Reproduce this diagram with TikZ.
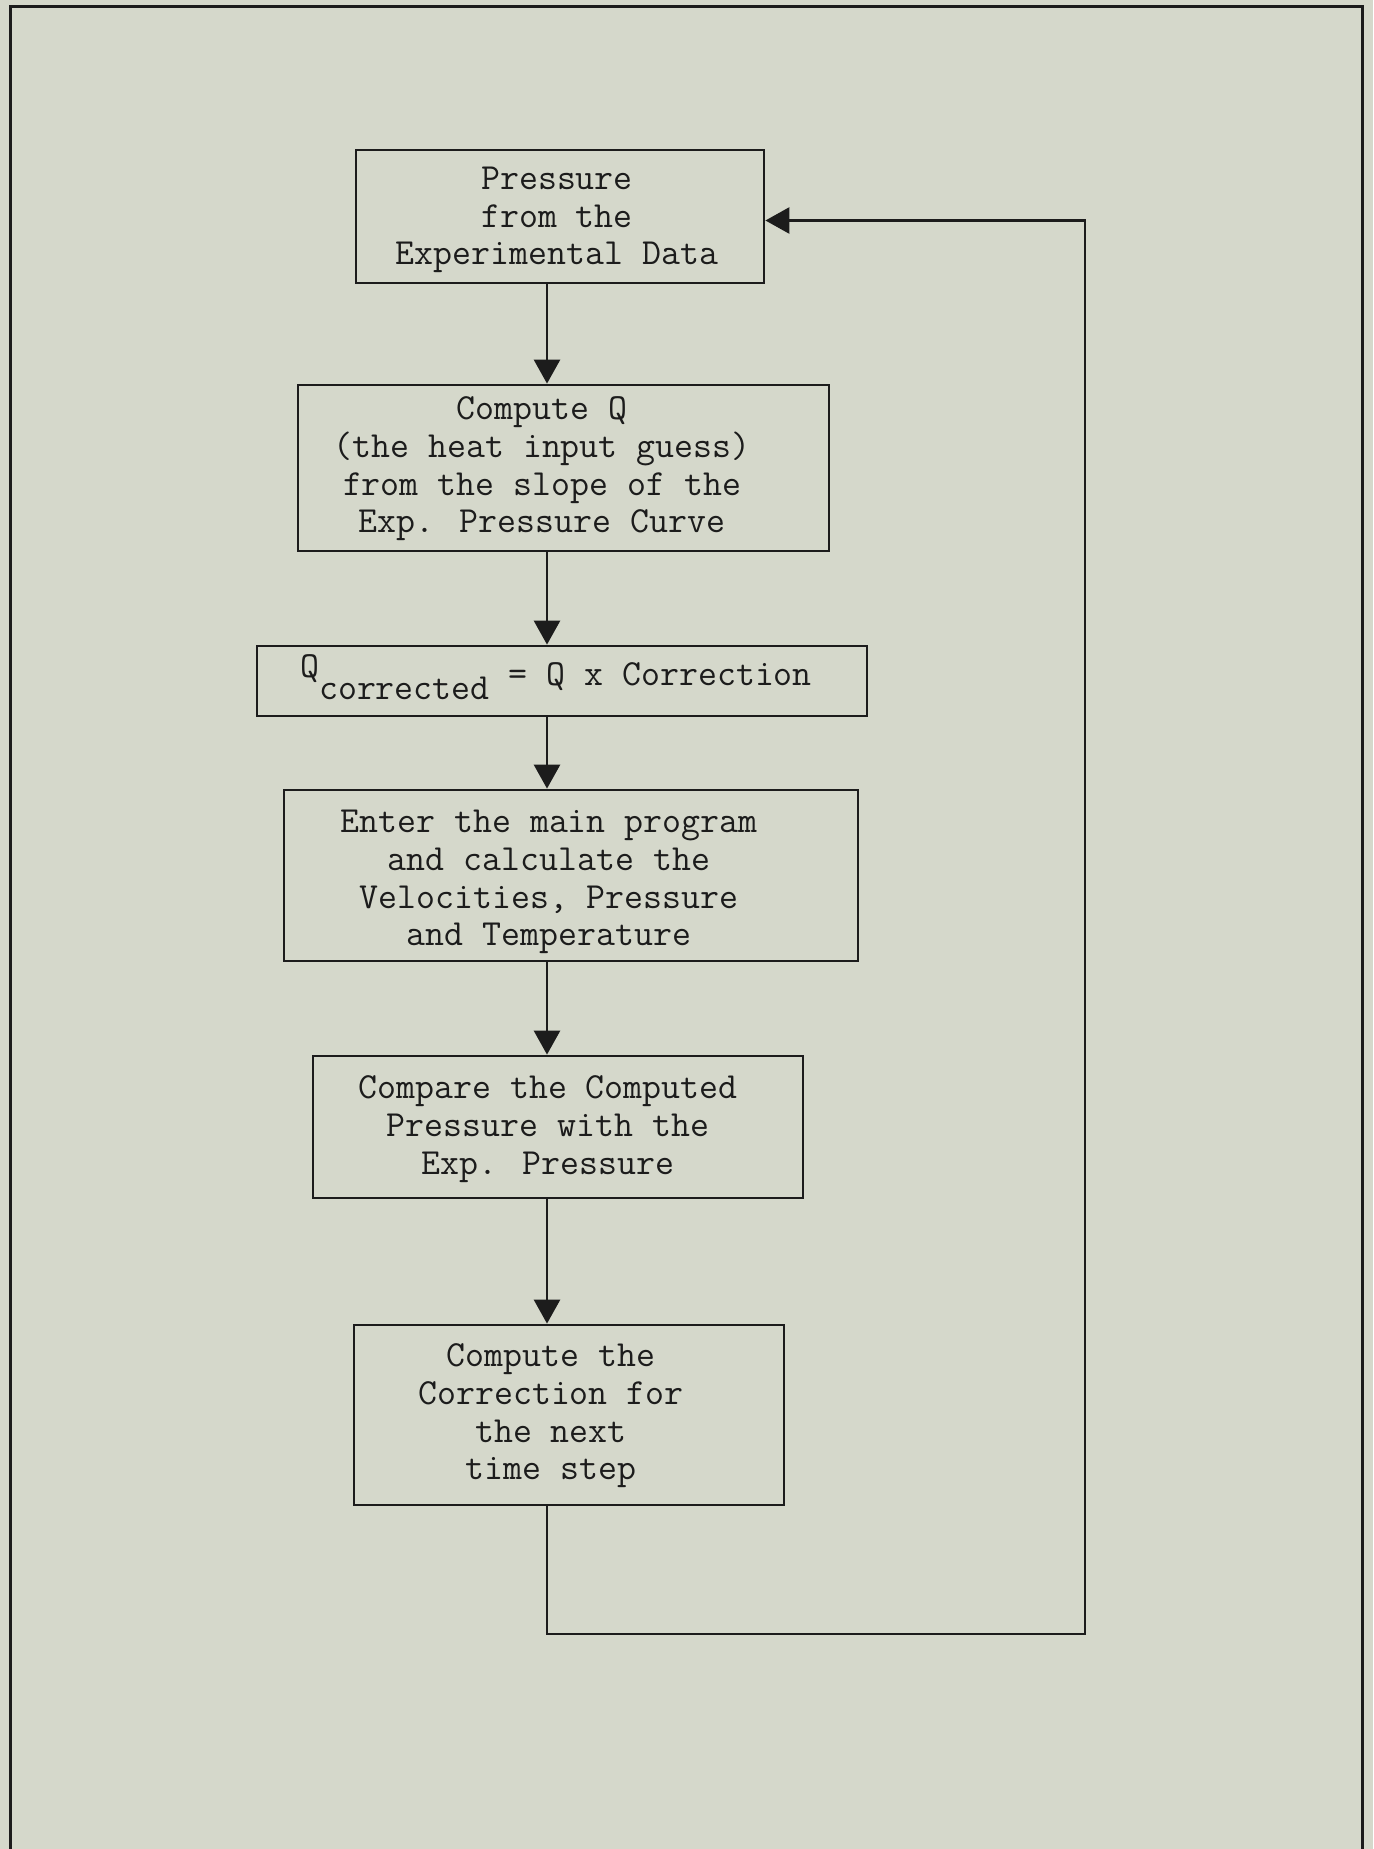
\documentclass[tikz,border=0pt]{standalone}
\usepackage{fontspec}
\usetikzlibrary{arrows.meta}
\definecolor{paper}{RGB}{213,216,203}
\definecolor{ink}{RGB}{28,28,28}
\begin{document}
\begin{tikzpicture}[x=1pt,y=-1pt,
  flowbox/.style={draw=ink, line width=2.8pt, inner sep=0pt},
  flowtext/.style={font=\ttfamily\fontsize{36.8}{37.7}\selectfont, align=center, text=ink, inner sep=0pt},
  flowarrow/.style={draw=ink, line width=2.8pt, -{Triangle[width=26pt,length=24pt]}},
  frame/.style={draw=ink, line width=3pt}]
\fill[paper] (0,0) rectangle (1373,1849);
\useasboundingbox (0,0) rectangle (1373,1849);
\draw[frame] (10,1849) -- (10,7) -- (1362,7) -- (1362,1849);

\node[flowbox, minimum width=408pt, minimum height=133pt] (b1) at (560,216.5) {};
\node[flowbox, minimum width=531pt, minimum height=166pt] (b2) at (563.5,468) {};
\node[flowbox, minimum width=610pt, minimum height=70pt] (b3) at (562,681) {};
\node[flowbox, minimum width=574pt, minimum height=171pt] (b4) at (571,875.5) {};
\node[flowbox, minimum width=490pt, minimum height=142pt] (b5) at (558,1127) {};
\node[flowbox, minimum width=430pt, minimum height=180pt] (b6) at (569,1415) {};

\node[flowtext] (t1) at (557,220) {Pressure\\from the\\Experimental Data};
\node[flowtext] (t2) at (542,469) {Compute Q\\(the heat input guess)\\from the slope of the\\Exp. Pressure Curve};
\node[flowtext, anchor=base] (t3) at (556,685) {\raisebox{8pt}{Q}\raisebox{-14pt}{corrected} = Q x Correction};
\node[flowtext] (t4) at (549,882) {Enter the main program\\and calculate the\\Velocities, Pressure\\and Temperature};
\node[flowtext] (t5) at (548,1129) {Compare the Computed\\Pressure with the\\Exp. Pressure};
\node[flowtext] (t6) at (551,1416) {Compute the\\Correction for\\the next\\time step};

\coordinate (axis) at (547,0);
\coordinate (ret) at (1085,1634);
\coordinate (in1) at ([yshift=-4pt]b1.east);
\draw[flowarrow] (axis |- b1.south) -- (axis |- b2.north);
\draw[flowarrow] (axis |- b2.south) -- (axis |- b3.north);
\draw[flowarrow] (axis |- b3.south) -- (axis |- b4.north);
\draw[flowarrow] (axis |- b4.south) -- (axis |- b5.north);
\draw[flowarrow] (axis |- b5.south) -- (axis |- b6.north);
\draw[flowarrow] (axis |- b6.south) |- (ret) |- (in1);
\end{tikzpicture}
\end{document}
